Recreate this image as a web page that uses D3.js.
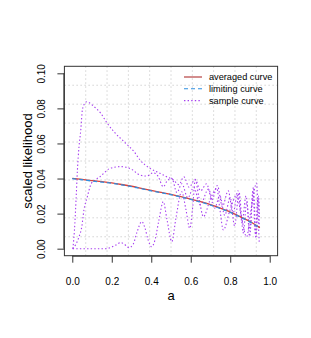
<!DOCTYPE html>
<html>
<head>
<meta charset="utf-8">
<script src="https://cdn.jsdelivr.net/npm/d3@7"></script>
<style>
  body { margin: 0; background: #fff; }
  text { font-family: "Liberation Sans", Arial, sans-serif; fill: #000; }
</style>
</head>
<body>
<div id="chart"></div>
<script>
// a values shared by the averaged and limiting curves
const aGrid = [0, 0.05, 0.1, 0.15, 0.2, 0.25, 0.3, 0.35, 0.4, 0.45, 0.5,
  0.55, 0.6, 0.65, 0.7, 0.75, 0.8, 0.85, 0.9, 0.95];
const averaged = [0.0401, 0.0395, 0.0388, 0.0382, 0.0375, 0.0366, 0.0356, 0.0344,
  0.0332, 0.0321, 0.0310, 0.0297, 0.0283, 0.0268, 0.0251, 0.0231, 0.0209, 0.0183,
  0.0155, 0.0120];
const limiting = [0.0399, 0.0393, 0.0386, 0.0380, 0.0373, 0.0364, 0.0354, 0.0342,
  0.0330, 0.0319, 0.0308, 0.0295, 0.0281, 0.0266, 0.0249, 0.0229, 0.0207, 0.0181,
  0.0153, 0.0118];

// sample curves, read as [a, value]
const sample1 = [[0.003, 0], [0.011, 0.0107], [0.019, 0.0278], [0.026, 0.0449], [0.034, 0.0582],
  [0.043, 0.0677], [0.051, 0.0791], [0.063, 0.0829], [0.073, 0.0838], [0.110, 0.0810],
  [0.144, 0.0772], [0.177, 0.0715], [0.211, 0.0667], [0.262, 0.0610], [0.313, 0.0553],
  [0.343, 0.0506], [0.394, 0.0458], [0.444, 0.0430], [0.478, 0.0410], [0.512, 0.0392],
  [0.540, 0.0365], [0.565, 0.0410], [0.592, 0.0350], [0.622, 0.0395], [0.650, 0.0330],
  [0.680, 0.0370], [0.708, 0.0280], [0.735, 0.0360], [0.760, 0.0240], [0.790, 0.0330],
  [0.814, 0.0200], [0.839, 0.0330], [0.860, 0.0150], [0.880, 0.0300], [0.900, 0.0110],
  [0.915, 0.0330], [0.928, 0.0080], [0.940, 0.0290], [0.948, 0.0107]];
const sample2 = [[0.002, 0], [0.019, 0.0027], [0.034, 0.0068], [0.048, 0.0125], [0.059, 0.0221],
  [0.076, 0.0296], [0.095, 0.0369], [0.115, 0.0392], [0.140, 0.0410], [0.191, 0.0458],
  [0.242, 0.0468], [0.292, 0.0458], [0.343, 0.0420], [0.377, 0.0414], [0.410, 0.0433],
  [0.434, 0.0414], [0.461, 0.0353], [0.480, 0.0386], [0.504, 0.0401], [0.530, 0.0320],
  [0.555, 0.0370], [0.585, 0.0290], [0.615, 0.0350], [0.648, 0.0250], [0.690, 0.0340],
  [0.720, 0.0230], [0.748, 0.0300], [0.772, 0.0190], [0.800, 0.0290], [0.822, 0.0130],
  [0.845, 0.0320], [0.866, 0.0090], [0.884, 0.0270], [0.898, 0.0070], [0.918, 0.0350],
  [0.930, 0.0060], [0.944, 0.0300], [0.948, 0.0180]];
const sample3 = [[0.002, 0], [0.090, 0], [0.166, 0], [0.201, 0.001], [0.221, 0.0021],
  [0.245, 0.0035], [0.262, 0.0027], [0.287, 0.0006], [0.309, 0.0027], [0.328, 0.0095],
  [0.352, 0.0154], [0.368, 0.0118], [0.384, 0.0050], [0.402, 0.0011], [0.419, 0.0050],
  [0.439, 0.0164], [0.461, 0.0268], [0.480, 0.0164], [0.504, 0.0040], [0.525, 0.0175],
  [0.554, 0.0325], [0.576, 0.0221], [0.595, 0.0116], [0.611, 0.0249], [0.622, 0.0392],
  [0.642, 0.0289], [0.664, 0.0182], [0.698, 0.0278], [0.732, 0.0344], [0.748, 0.0221],
  [0.765, 0.0107], [0.799, 0.0221], [0.833, 0.0306], [0.855, 0.0192], [0.883, 0.0068],
  [0.905, 0.0221], [0.934, 0.0373], [0.941, 0.0192], [0.947, 0.0031]];

const xTicks = [0, 0.2, 0.4, 0.6, 0.8, 1.0];
const yTicks = [0, 0.02, 0.04, 0.06, 0.08, 0.10];
const legendLabels = ["averaged curve", "limiting curve", "sample curve"];

const W = 311, H = 338;
const margin = { top: 66.3, right: 33.4, bottom: 82.3, left: 64.4 };
const width = W - margin.left - margin.right;
const height = H - margin.top - margin.bottom;

const svg = d3.select("#chart").append("svg")
  .attr("width", W).attr("height", H);
const g = svg.append("g")
  .attr("transform", `translate(${margin.left},${margin.top})`);

// R-style 4% padding
const x = d3.scaleLinear().domain([-0.04, 1.04]).range([0, width]);
const y = d3.scaleLinear().domain([-0.004, 0.104]).range([height, 0]);

// grid: 10 equal divisions of the plot region
const gridX = d3.range(1, 10).map(i => -0.04 + i * 0.108);
const gridY = d3.range(1, 10).map(i => -0.004 + i * 0.0108);
g.selectAll(".gx").data(gridX).enter().append("line")
  .attr("x1", d => x(d)).attr("x2", d => x(d))
  .attr("y1", 0).attr("y2", height)
  .attr("stroke", "#d3d3d3").attr("stroke-dasharray", "1.5,2.5");
g.selectAll(".gy").data(gridY).enter().append("line")
  .attr("y1", d => y(d)).attr("y2", d => y(d))
  .attr("x1", 0).attr("x2", width)
  .attr("stroke", "#d3d3d3").attr("stroke-dasharray", "1.5,2.5");

const line = d3.line()
  .x(d => x(d[0])).y(d => y(d[1]))
  .curve(d3.curveMonotoneX);

[sample1, sample2, sample3].forEach(s => {
  g.append("path").datum(s)
    .attr("fill", "none")
    .attr("stroke", "#a63ef0")
    .attr("stroke-width", 1.1)
    .attr("stroke-dasharray", "1.4,2.2")
    .attr("d", line);
});

g.append("path").datum(aGrid.map((a, i) => [a, averaged[i]]))
  .attr("fill", "none").attr("stroke", "#d8403a").attr("stroke-width", 1.3)
  .attr("d", line);
g.append("path").datum(aGrid.map((a, i) => [a, limiting[i]]))
  .attr("fill", "none").attr("stroke", "#2f8fe0").attr("stroke-width", 1.3)
  .attr("stroke-dasharray", "4,3")
  .attr("d", line);

// box
g.append("rect").attr("x", 0).attr("y", 0)
  .attr("width", width).attr("height", height)
  .attr("fill", "none").attr("stroke", "#333");

// axes
const xAxis = g.append("g")
  .attr("transform", `translate(0,${height})`)
  .call(d3.axisBottom(x).tickValues(xTicks).tickSize(7).tickPadding(0)
    .tickFormat(d3.format(".1f")));
xAxis.select(".domain").attr("d", `M${x(0)},0.5H${x(1)}`).attr("stroke", "#333");
xAxis.selectAll(".tick line").attr("stroke", "#333");
xAxis.selectAll(".tick text").attr("y", 29.6).attr("dy", 0)
  .style("font-size", "10px").attr("fill", "#222");

const yAxis = g.append("g")
  .call(d3.axisLeft(y).tickValues(yTicks).tickSize(7)
    .tickFormat(d3.format(".2f")));
yAxis.select(".domain").attr("d", `M-0.5,${y(0)}V${y(0.1)}`).attr("stroke", "#333");
yAxis.selectAll(".tick line").attr("stroke", "#333");
yAxis.selectAll(".tick text")
  .attr("x", 0).attr("dy", 0)
  .attr("text-anchor", "middle")
  .attr("transform", `translate(${45.3 - margin.left},0) rotate(-90)`)
  .style("font-size", "10px").attr("fill", "#222");

// axis titles
svg.append("text")
  .attr("x", margin.left + x(0.5)).attr("y", 300)
  .attr("text-anchor", "middle").style("font-size", "13px")
  .text("a");
svg.append("text")
  .attr("transform", `translate(31.7,${margin.top + y(0.05)}) rotate(-90)`)
  .attr("text-anchor", "middle").style("font-size", "13px")
  .text("scaled likelihood");

// legend
const legendStyles = [
  { color: "#b03030", dash: null, w: 1.1 },
  { color: "#2f8fe0", dash: "4,3", w: 1.1 },
  { color: "#a63ef0", dash: "1.4,2.2", w: 1.1 }
];
const legend = svg.append("g");
legendLabels.forEach((label, i) => {
  const cy = 77 + i * 11.8;
  legend.append("line")
    .attr("x1", 184).attr("x2", 202).attr("y1", cy).attr("y2", cy)
    .attr("stroke", legendStyles[i].color)
    .attr("stroke-width", legendStyles[i].w)
    .attr("stroke-dasharray", legendStyles[i].dash);
  legend.append("text")
    .attr("x", 209).attr("y", cy + 3.2)
    .style("font-size", "9.2px").attr("fill", "#222")
    .text(label);
});
</script>
</body>
</html>
